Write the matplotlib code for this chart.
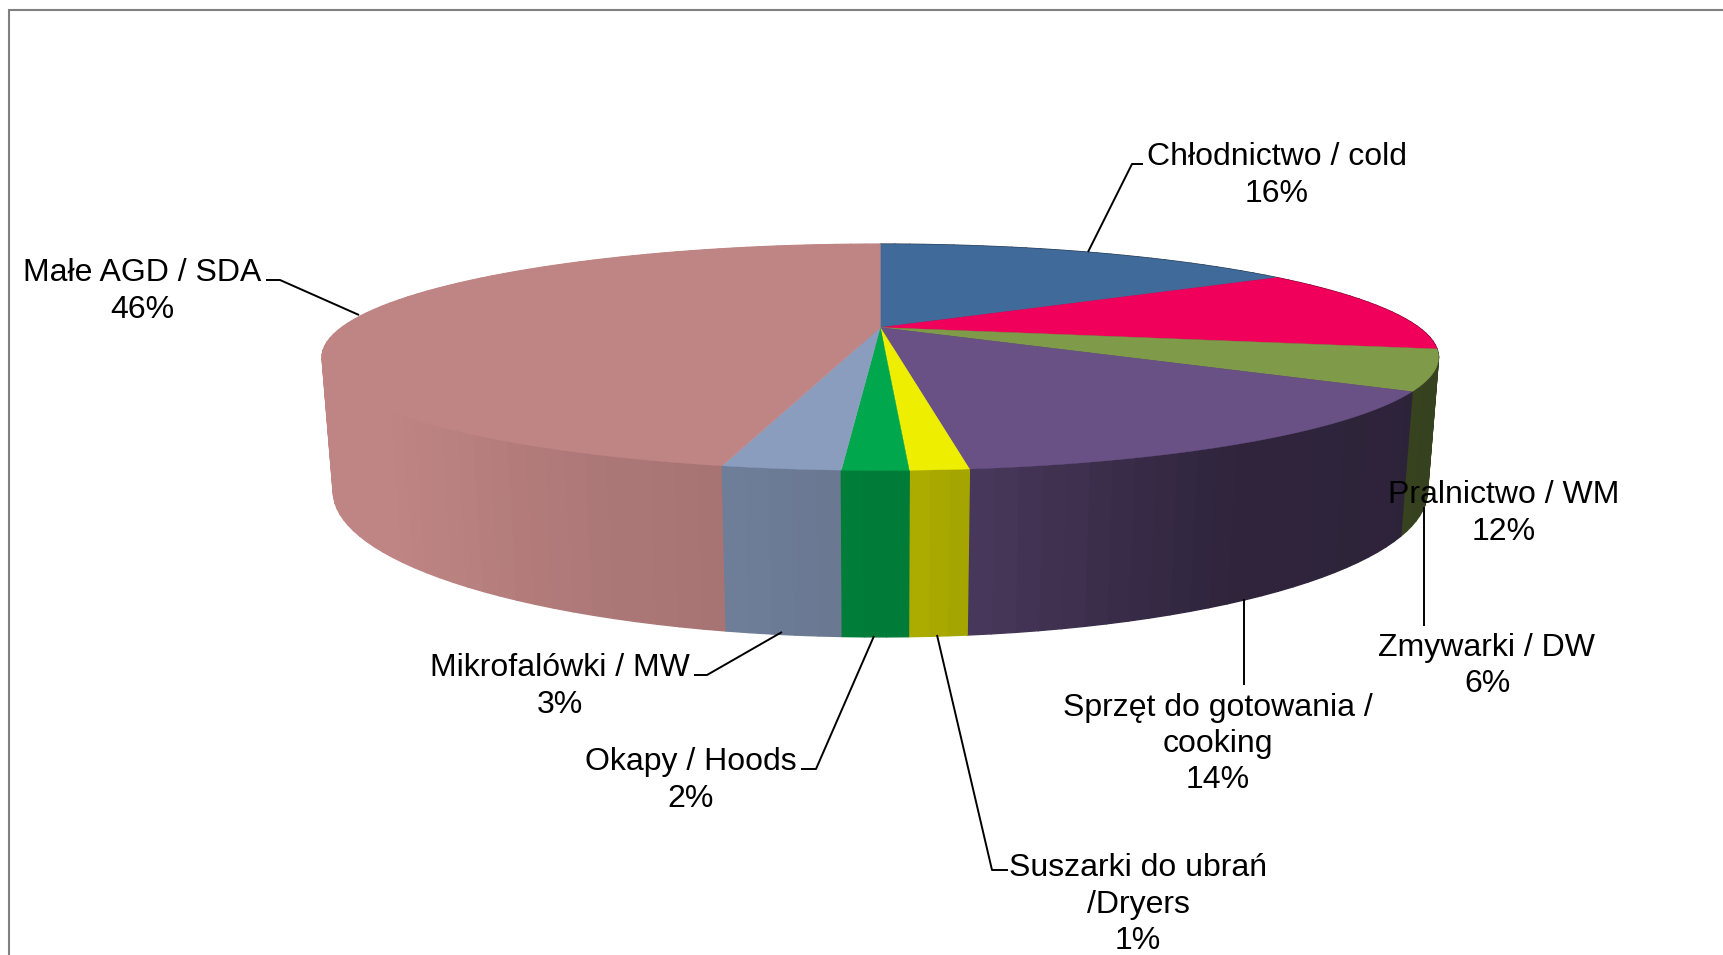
import matplotlib
matplotlib.use('Agg')
import matplotlib.pyplot as plt
import numpy as np
from matplotlib.collections import PolyCollection
from matplotlib.colors import to_rgb
from matplotlib.patches import Polygon

plt.rcParams['font.family'] = ['Liberation Sans', 'DejaVu Sans']

categories = ['Chłodnictwo / cold', 'Pralnictwo / WM', 'Zmywarki / DW',
              'Sprzęt do gotowania /\ncooking', 'Suszarki do ubrań\n/Dryers',
              'Okapy / Hoods', 'Mikrofalówki / MW', 'Małe AGD / SDA']
values = [15.9, 12.2, 5.7, 14.25, 1.32, 1.48, 2.65, 46.5]
percent_labels = ['16%', '12%', '6%', '14%', '1%', '2%', '3%', '46%']
colors = ['#406A99', '#F0005A', '#7F9A48', '#695185',
          '#EEEE00', '#00A74C', '#8A9DBF', '#BF8584']

# where the labels sit, in image pixels
label_x = [1277, 1504, 1487, 1218, 1138, 691, 560, 142]
label_y = [175.5, 513.5, 666, 744, 904.5, 780.5, 686.5, 291.5]

leaders = [
    [(1143, 164), (1132, 164), (1088, 252)],
    [(1424, 507), (1424, 626)],
    [(1244, 599), (1244, 685)],
    [(1008, 870), (992, 870), (937, 635)],
    [(874, 636), (816, 769), (801, 769)],
    [(782, 632), (707, 675), (694, 675)],
    [(359, 315), (280, 280), (266, 280)],
]

# wall brightness against angle clockwise from 12 o'clock
shade_angle = [90, 150, 161, 172, 178, 183, 192, 193, 206, 217, 230, 360]
shade_value = [.41, .45, .55, .68, .73, .76, .80, .87, .91, .96, 1, 1]

# perspective of the pie
cx, cy = 880.3, 327.5
A, B, C = 538.6, 105.3, 128.6
k, m = 0.263, 0.019


def project(theta, depth=0):
    t = np.radians(theta)
    x, y = np.sin(t), np.cos(t)
    w = 1 + k * y + m * depth
    return cx + A * x / w, cy - (B * y - C * depth) / w


fig, ax = plt.subplots(figsize=(17.23, 9.55), dpi=100)
ax.set_position([0, 0, 1, 1])
ax.set_xlim(0, 1723)
ax.set_ylim(955, 0)
ax.axis('off')

# chart frame, only top and left are visible
ax.plot([9, 9, 1723], [955, 10, 10], color='#808080', lw=1.5, solid_joinstyle='miter')

edges = np.concatenate([[0], np.cumsum(values)]) * 3.6

# outer walls, far strips first so the near ones cover them
polys, facecolors = [], []
for i, col in enumerate(colors):
    steps = np.linspace(edges[i], edges[i + 1], int(values[i] * 3.6 / 2) + 2)
    for a, b in zip(steps[:-1], steps[1:]):
        mid = (a + b) / 2
        x0, y0 = project(a)
        x1, y1 = project(b)
        x2, y2 = project(b, 1)
        x3, y3 = project(a, 1)
        polys.append([(x0, y0), (x1, y1), (x2, y2), (x3, y3)])
        facecolors.append(np.array(to_rgb(col)) * np.interp(mid, shade_angle, shade_value))
order = sorted(range(len(polys)), key=lambda n: polys[n][0][1])
walls = PolyCollection([polys[n] for n in order], facecolors=[facecolors[n] for n in order],
                       edgecolors='face', linewidths=1.0)
ax.add_collection(walls)

# top face
for i, col in enumerate(colors):
    arc = np.linspace(edges[i], edges[i + 1], 200)
    xs, ys = project(arc)
    pts = np.column_stack([np.r_[cx, xs], np.r_[cy, ys]])
    ax.add_patch(Polygon(pts, closed=True, facecolor=col, edgecolor=col, lw=0.3))

for line in leaders:
    xs, ys = zip(*line)
    ax.plot(xs, ys, color='black', lw=1.4, solid_capstyle='butt')

for name, pct, x, y in zip(categories, percent_labels, label_x, label_y):
    ax.text(x, y, name + '\n' + pct, ha='center', va='center', fontsize=23,
            color='black', linespacing=1.28)

plt.savefig('out.png', dpi=100)
